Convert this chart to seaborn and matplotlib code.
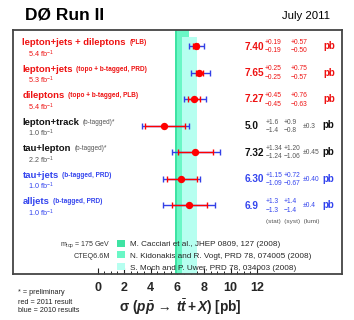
import numpy as np
import pandas as pd
import seaborn as sns
import matplotlib
matplotlib.use("Agg")
import matplotlib.pyplot as plt
import matplotlib.transforms as mtransforms
from matplotlib.patches import Patch

# ---------------- data ----------------
labels = ['lepton+jets + dileptons', 'lepton+jets', 'dileptons', 'lepton+track',
          'tau+lepton', 'tau+jets', 'alljets']
sublabels = ['(PLB)', '(topo + b-tagged, PRD)', '(topo + b-tagged, PLB)', '(b-tagged)*',
             '(b-tagged)*', '(b-tagged, PRD)', '(b-tagged, PRD)']
lumis = ['5.4', '5.3', '5.4', '1.0', '2.2', '1.0', '1.0']
xsec = [7.40, 7.65, 7.27, 5.0, 7.32, 6.30, 6.9]
decimals = [2, 2, 2, 1, 2, 2, 1]
stat_up = [0.19, 0.25, 0.45, 1.6, 1.34, 1.15, 1.3]
stat_dn = [0.19, 0.25, 0.45, 1.4, 1.24, 1.09, 1.3]
syst_up = [0.57, 0.75, 0.76, 0.9, 1.20, 0.72, 1.4]
syst_dn = [0.50, 0.57, 0.63, 0.8, 1.06, 0.67, 1.4]
lumi_err = [None, None, None, 0.3, 0.45, 0.40, 0.4]
row_kind = ['red', 'red', 'red', 'black', 'black', 'blue', 'blue']

theory_labels = ['M. Cacciari et al., JHEP 0809, 127 (2008)',
                 'N. Kidonakis and R. Vogt, PRD 78, 074005 (2008)',
                 'S. Moch and P. Uwer, PRD 78, 034003 (2008)']
theory_lo = [5.83, 5.95, 6.35]
theory_hi = [6.90, 6.85, 7.48]
theory_colors = ['#3ee3a3', '#6af7c6', '#b6fff0']

major_ticks = [0, 2, 4, 6, 8, 10, 12]

# ---------------- style ----------------
sns.set_theme(style='white')
plt.rcParams['font.family'] = ['Liberation Sans', 'DejaVu Sans']
plt.rcParams['mathtext.fontset'] = 'custom'
plt.rcParams['mathtext.rm'] = 'Liberation Sans'
plt.rcParams['mathtext.it'] = 'Liberation Sans:italic:bold'
plt.rcParams['mathtext.bf'] = 'Liberation Sans:bold'

RED = '#ff0000'
BLUE = '#3340e6'
GRAY = '#555555'
main_col = {'red': '#ee1111', 'black': '#111111', 'blue': '#3344ee'}
sub_col = {'red': '#ee1111', 'black': GRAY, 'blue': '#3344ee'}

W, H = 354, 320
fig = plt.figure(figsize=(W / 100, H / 100), dpi=100)
ax_l, ax_r, ax_t, ax_b = 13, 342, 30, 274
ax = fig.add_axes([ax_l / W, 1 - ax_b / H, (ax_r - ax_l) / W, (ax_b - ax_t) / H])

x0px, ppu = 97.5, 13.3
ax.set_xlim(-(x0px - ax_l) / ppu, (ax_r - x0px) / ppu)
row_px = 26.5
first_row_px = 46
ytop = -(first_row_px - ax_t) / row_px
ax.set_ylim(ytop + (ax_b - ax_t) / row_px, ytop)

def fx(px):
    return (px - ax_l) / (ax_r - ax_l)

def fy(py):
    return 1 - (py - ax_t) / (ax_b - ax_t)

PT = 0.72  # points per pixel
btrans = mtransforms.blended_transform_factory(ax.transAxes, ax.transData)

# theory bands
for i, (lo, hi, c) in enumerate(zip(theory_lo, theory_hi, theory_colors)):
    ymax = 1.0 if i < 2 else fy(37)
    ax.axvspan(lo, hi, ymin=0, ymax=ymax, color=c, lw=0, zorder=1)

rows = np.arange(len(labels))
sd = np.array(stat_dn); su = np.array(stat_up)
yd = np.array(syst_dn); yu = np.array(syst_up)
lu = np.array([0 if v is None else v for v in lumi_err])
tot_dn = np.sqrt(sd**2 + yd**2 + lu**2)
tot_up = np.sqrt(su**2 + yu**2 + lu**2)

ax.errorbar(xsec, rows, xerr=[tot_dn, tot_up], fmt='none', ecolor=BLUE,
            elinewidth=1.0, capsize=2.3, capthick=1.0, zorder=3)
ax.errorbar(xsec, rows, xerr=[sd, su], fmt='none', ecolor=RED,
            elinewidth=1.0, capsize=2.3, capthick=1.0, zorder=4)
df = pd.DataFrame({'xsec': xsec, 'row': rows})
sns.scatterplot(data=df, x='xsec', y='row', ax=ax, color=RED, s=28,
                edgecolor=RED, linewidth=0, zorder=5, legend=False)

# row texts
for i in range(len(labels)):
    k = row_kind[i]
    mc, sc = main_col[k], sub_col[k]
    t = ax.annotate(labels[i], xy=(fx(22.5), rows[i]), xycoords=btrans,
                    xytext=(0, 3.2 * PT), textcoords='offset points',
                    ha='left', va='center', fontsize=6.8, fontweight='bold', color=mc)
    ax.annotate(sublabels[i], xy=(1, 0), xycoords=t, xytext=(2.5, 0.6),
                textcoords='offset points', ha='left', va='bottom', fontsize=4.7,
                fontweight=('normal' if k == 'black' else 'bold'), color=sc)
    ax.annotate(lumis[i] + r' fb$^{-1}$', xy=(fx(28), rows[i]), xycoords=btrans,
                xytext=(0, -8 * PT), textcoords='offset points',
                ha='left', va='center', fontsize=5.2, color=sc)

    d = decimals[i]
    ax.annotate(f'{xsec[i]:.{d}f}', xy=(fx(245), rows[i]), xycoords=btrans,
                xytext=(0, -0.5 * PT), textcoords='offset points',
                ha='left', va='center', fontsize=7.2, fontweight='bold', color=mc)
    if lumi_err[i] is None:
        cols = [265, 291]
        pbx = 323
    else:
        cols = [266, 284]
        pbx = 322
    for cx, up, dn in zip(cols, [stat_up[i], syst_up[i]], [stat_dn[i], syst_dn[i]]):
        ax.annotate(f'+{up:.{d}f}', xy=(fx(cx), rows[i]), xycoords=btrans,
                    xytext=(0, 3.5 * PT), textcoords='offset points',
                    ha='left', va='center', fontsize=4.8, color=sc)
        ax.annotate(f'\u2212{dn:.{d}f}', xy=(fx(cx), rows[i]), xycoords=btrans,
                    xytext=(0, -5 * PT), textcoords='offset points',
                    ha='left', va='center', fontsize=4.8, color=sc)
    if lumi_err[i] is not None:
        ax.annotate(f'\u00b1{lumi_err[i]:.{d}f}', xy=(fx(303), rows[i]), xycoords=btrans,
                    xytext=(0, -0.5 * PT), textcoords='offset points',
                    ha='left', va='center', fontsize=4.8, color=sc)
    ax.annotate('pb', xy=(fx(pbx), rows[i]), xycoords=btrans,
                xytext=(0, 0), textcoords='offset points',
                ha='left', va='center', fontsize=7, fontweight='bold', color=mc)

ax.text(fx(266), fy(222), '(stat)  (syst)  (lumi)',
        transform=ax.transAxes, ha='left', va='center', fontsize=4.6, color=GRAY)

# theory legend
handles = [Patch(facecolor=c, edgecolor='none') for c in theory_colors]
leg = ax.legend(handles, theory_labels, loc='lower left',
                bbox_to_anchor=(fx(117), fy(271.5)),
                frameon=False, fontsize=5.9, handlelength=1.0, handleheight=0.95,
                handletextpad=0.6, labelspacing=0.42, borderaxespad=0, borderpad=0)
leg.set_zorder(6)

ax.text(fx(110), fy(245), r'm$_{\rm top}$ = 175 GeV',
        transform=ax.transAxes, ha='right', va='center', fontsize=5.0, color='#333333')
ax.text(fx(110), fy(257), 'CTEQ6.6M',
        transform=ax.transAxes, ha='right', va='center', fontsize=5.2, color='#333333')

# axes styling
ax.set_yticks([])
ax.set_xticks(major_ticks)
ax.set_xticks(np.arange(0, 12.01, 0.5), minor=True)
ax.tick_params(axis='x', which='major', direction='in', length=4.3, width=0.8,
               color='#222222', bottom=True, pad=6, labelsize=9)
ax.tick_params(axis='x', which='minor', direction='in', length=2.2, width=0.7,
               color='#222222', bottom=True)
for lab in ax.get_xticklabels():
    lab.set_fontweight('bold')
ax.set_xlabel('')
ax.set_ylabel('')
for s in ax.spines.values():
    s.set_color('#444444')
    s.set_linewidth(1.3)
    s.set_visible(True)
ax.grid(False)

# figure texts
fig.text(25 / W, 1 - 15 / H, 'DØ Run II', fontsize=12.5, fontweight='bold',
         ha='left', va='center', color='black')
fig.text(330 / W, 1 - 16 / H, 'July 2011', fontsize=8.2, ha='right', va='center',
         color='black')
fig.text(180 / W, 1 - 307 / H,
         r'$\mathbf{\sigma\ (}\mathit{p\bar{p}}\,\mathbf{\rightarrow}\,\mathit{t\bar{t}}\,\mathbf{+}\,\mathit{X}\mathbf{)}$ [pb]',
         fontsize=9.8, fontweight='bold', ha='center', va='center')
for j, txt in enumerate(['* = preliminary', 'red = 2011 result', 'blue = 2010 results']):
    fig.text(18 / W, 1 - (293 + 9 * j) / H, txt, fontsize=5.2, ha='left', va='center',
             color='#222222')

fig.savefig('out.png', dpi=100)
